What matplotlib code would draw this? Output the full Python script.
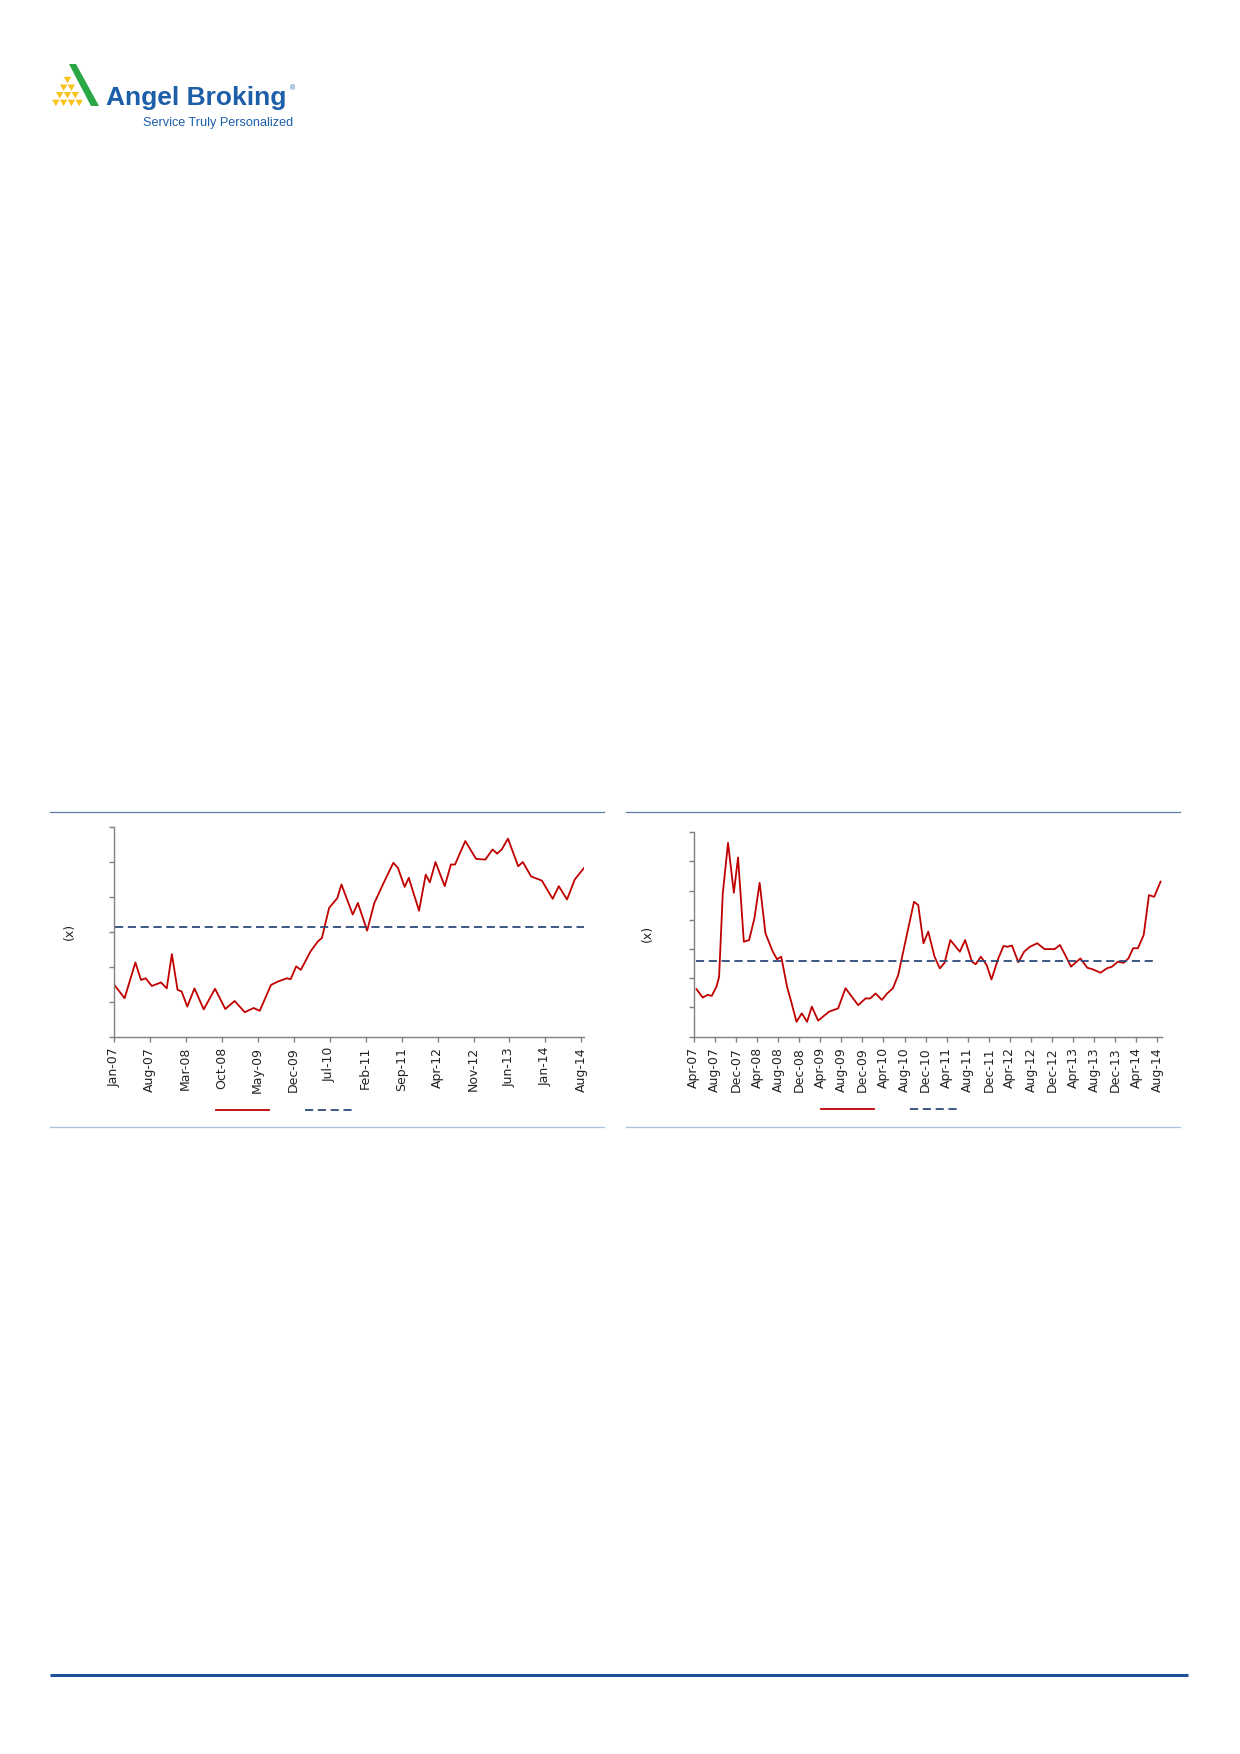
import matplotlib.pyplot as plt
from matplotlib.patches import Polygon
from matplotlib.lines import Line2D

# ---- data: chart 1 (months from Jan-07) ----
months_1 = [0, 2.1, 4.2, 5.3, 6.2, 7.4, 9.2, 10.3, 11.3, 12.4, 13.2, 14.3, 15.7, 17.5, 19.7,
            21.7, 23.5, 25.5, 27.2, 28.4, 30.6, 32.0, 33.7, 34.4, 35.5, 36.4, 38.3, 39.7, 40.5,
            41.9, 43.5, 44.3, 46.5, 47.5, 49.3, 50.7, 52.5, 54.4, 55.3, 56.6, 57.4, 59.4, 60.7,
            61.5, 62.6, 64.4, 65.6, 66.4, 68.4, 70.5, 72.3, 73.7, 74.6, 75.5, 76.7, 78.7, 79.6,
            81.2, 83.3, 85.4, 86.6, 88.2, 89.7, 91.5]
values_1 = [7.5, 5.5, 10.6, 8.1, 8.35, 7.25, 7.75, 6.9, 11.8, 6.7, 6.45, 4.3, 6.9, 3.9, 6.85,
            3.95, 5.1, 3.5, 4.1, 3.7, 7.4, 7.9, 8.35, 8.2, 10.05, 9.55, 12.2, 13.6, 14.1,
            18.4, 19.8, 21.75, 17.45, 19.1, 15.15, 19.1, 21.95, 24.85, 24.1, 21.4, 22.7, 18.0, 23.15,
            22.05, 24.95, 21.5, 24.6, 24.6, 27.95, 25.4, 25.3, 26.75, 26.15, 26.75, 28.3, 24.35, 24.95,
            22.9, 22.3, 19.7, 21.5, 19.6, 22.45, 24.1]
avg_1 = 15.6
ticks_1 = [0, 7, 14, 21, 28, 35, 42, 49, 56, 63, 70, 77, 84, 91]
labels_1 = ['Jan-07', 'Aug-07', 'Mar-08', 'Oct-08', 'May-09', 'Dec-09', 'Jul-10',
            'Feb-11', 'Sep-11', 'Apr-12', 'Nov-12', 'Jun-13', 'Jan-14', 'Aug-14']

# ---- data: chart 2 (months from Apr-07) ----
months_2 = [0.5, 1.7, 2.6, 3.4, 4.3, 4.8, 5.5, 6.5, 7.6, 8.4, 9.5, 10.5, 11.5, 12.5, 13.6,
            15.0, 15.8, 16.6, 17.7, 18.4, 19.5, 20.5, 21.5, 22.4, 23.6, 25.7, 27.4, 28.8, 31.2,
            32.6, 33.5, 34.5, 35.7, 36.7, 37.8, 38.8, 40.5, 41.8, 42.6, 43.6, 44.5, 45.7, 46.7,
            47.6, 48.7, 50.5, 51.5, 52.8, 53.5, 54.5, 55.6, 56.5, 57.8, 58.8, 59.5, 60.4, 61.6,
            62.7, 63.8, 65.2, 66.6, 68.5, 69.5, 70.5, 71.6, 73.4, 74.7, 75.7, 77.2, 78.4, 79.4,
            80.5, 81.6, 82.5, 83.4, 84.3, 85.4, 86.4, 87.4, 88.6]
values_2 = [1.63, 1.34, 1.43, 1.40, 1.71, 2.05, 4.91, 6.64, 4.93, 6.14, 3.25, 3.31, 4.05, 5.27, 3.54,
            2.91, 2.65, 2.74, 1.71, 1.26, 0.51, 0.80, 0.51, 1.03, 0.55, 0.86, 0.97, 1.66, 1.08,
            1.31, 1.31, 1.48, 1.26, 1.48, 1.66, 2.11, 3.54, 4.62, 4.51, 3.20, 3.60, 2.74, 2.34,
            2.53, 3.31, 2.91, 3.31, 2.57, 2.48, 2.74, 2.45, 1.96, 2.68, 3.11, 3.08, 3.12, 2.55,
            2.91, 3.08, 3.20, 3.00, 3.00, 3.14, 2.80, 2.40, 2.68, 2.36, 2.31, 2.19, 2.34, 2.40,
            2.57, 2.53, 2.68, 3.03, 3.03, 3.48, 4.85, 4.79, 5.31]
avg_2 = 2.60
ticks_2 = list(range(0, 89, 4))
labels_2 = ['Apr-07', 'Aug-07', 'Dec-07', 'Apr-08', 'Aug-08', 'Dec-08', 'Apr-09', 'Aug-09',
            'Dec-09', 'Apr-10', 'Aug-10', 'Dec-10', 'Apr-11', 'Aug-11', 'Dec-11', 'Apr-12',
            'Aug-12', 'Dec-12', 'Apr-13', 'Aug-13', 'Dec-13', 'Apr-14', 'Aug-14']

RED = '#c00000'
NAVY = '#2e4a7a'
GREY = '#808080'
W, H = 1240, 1754

fig = plt.figure(figsize=(W / 100, H / 100), dpi=100)

# page overlay in pixel coordinates (logo, rules, legend keys)
bg = fig.add_axes([0, 0, 1, 1])
bg.set_xlim(0, W)
bg.set_ylim(H, 0)
bg.axis('off')

# logo
bg.add_patch(Polygon([(69, 64), (76, 64), (99, 106), (91, 106)], closed=True,
                     facecolor='#2aa845', edgecolor='none'))
for r in range(4):
    cy = 80 + r * 7.6
    for k in range(r + 1):
        cx = 67.5 - r * 3.9 + k * 7.8
        bg.add_patch(Polygon([(cx - 3.7, cy - 3.1), (cx + 3.7, cy - 3.1), (cx, cy + 3.3)],
                             closed=True, facecolor='#f7c21c', edgecolor='none'))
bg.text(106, 105, 'Angel Broking', fontsize=19, fontweight='bold', color='#1d5ea8',
        family='Liberation Sans', ha='left', va='baseline')
bg.text(290, 90, '®', fontsize=5, color='#1d5ea8', family='Liberation Sans', ha='left', va='baseline')
bg.text(143, 126, 'Service Truly Personalized', fontsize=9.1, color='#1d5ea8',
        family='Liberation Sans', ha='left', va='baseline')

# rules around the charts
for x0, x1 in [(50, 604), (626, 1180)]:
    bg.plot([x0, x1], [811.5, 811.5], color='#5a7fa8', lw=0.9)
    bg.plot([x0, x1], [1126.5, 1126.5], color='#a9c1dd', lw=0.9)
# page footer line
bg.plot([50, 1188], [1674.5, 1674.5], color='#1d4f9a', lw=2.2, solid_capstyle='butt')

# legend keys (no text in the reference)
for (rx0, rx1), (dx0, dx1), y in [((216, 269), (305, 356), 1110), ((821, 874), (910, 960), 1108.5)]:
    bg.add_line(Line2D([rx0, rx1], [y, y], color=RED, lw=1.3))
    bg.add_line(Line2D([dx0, dx1], [y, y], color=NAVY, lw=1.3, dashes=(4.5, 2.6)))


def style_axis(ax, ticks, labels):
    ax.set_facecolor('none')
    for s in ['top', 'right']:
        ax.spines[s].set_visible(False)
    for s in ['left', 'bottom']:
        ax.spines[s].set_color(GREY)
        ax.spines[s].set_linewidth(1.0)
    ax.set_xticks(ticks)
    ax.set_xticklabels(labels, rotation=90, fontsize=9, color='#222222', family='DejaVu Sans')
    ax.tick_params(axis='both', direction='out', length=3.4, width=1.0, color=GREY)
    ax.tick_params(axis='x', pad=4)
    ax.tick_params(axis='y', labelleft=False)


# chart 1
ax1 = fig.add_axes([113.8 / W, 1 - 1036.7 / H, (584.5 - 113.8) / W, (1036.7 - 826.7) / H])
ax1.plot(months_1, values_1, color=RED, lw=1.3, solid_joinstyle='round')
ax1.plot([0.3, months_1[-1]], [avg_1, avg_1], color=NAVY, lw=1.3, dashes=(4.5, 2.6))
ax1.set_xlim(0, 91.6)
ax1.set_ylim(0, 30)
ax1.set_yticks([0, 5, 10, 15, 20, 25, 30])
style_axis(ax1, ticks_1, labels_1)
fig.text(69 / W, 1 - 931.7 / H, '(x)', rotation=90, ha='center', va='center',
         fontsize=9, color='#222222')

# chart 2
ax2 = fig.add_axes([693.8 / W, 1 - 1036.7 / H, (1161.6 - 693.8) / W, (1036.7 - 832.3) / H])
ax2.plot(months_2, values_2, color=RED, lw=1.3, solid_joinstyle='round')
ax2.plot([0.5, 87.4], [avg_2, avg_2], color=NAVY, lw=1.3, dashes=(4.5, 2.6))
ax2.set_xlim(0, 88.8)
ax2.set_ylim(0, 7)
ax2.set_yticks(range(0, 8))
style_axis(ax2, ticks_2, labels_2)
fig.text(647 / W, 1 - 933 / H, '(x)', rotation=90, ha='center', va='center',
         fontsize=9, color='#222222')

plt.savefig('out.png', dpi=100)
plt.close(fig)
